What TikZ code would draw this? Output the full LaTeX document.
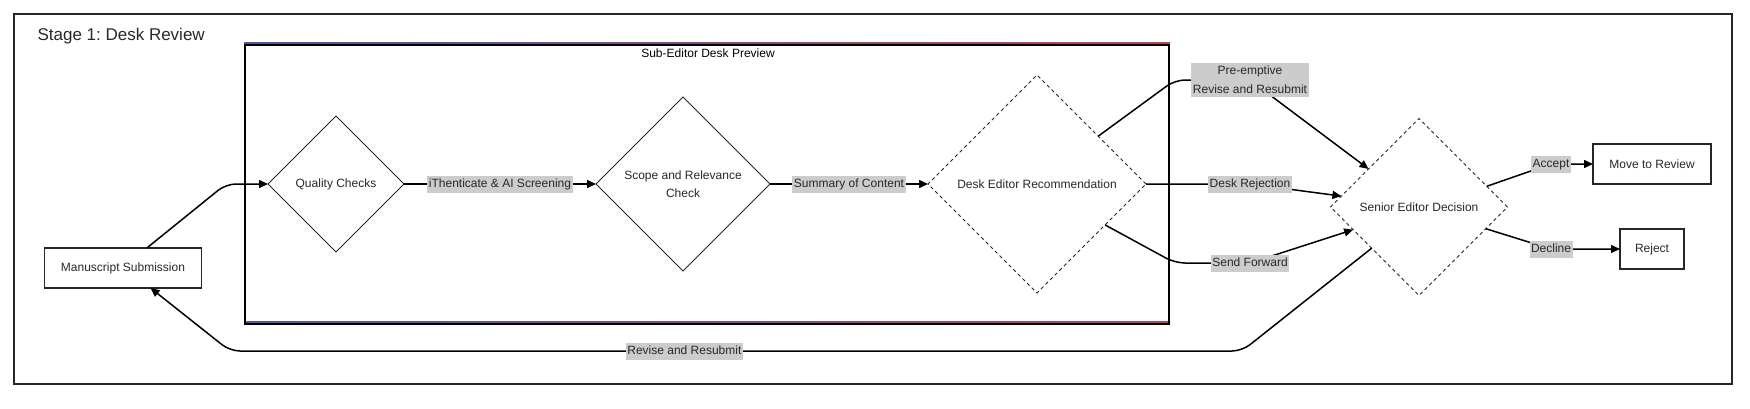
\documentclass[tikz,border=0pt]{standalone}
\usepackage{fontspec}
\setmainfont{Liberation Sans}
\usetikzlibrary{shapes.geometric}
\usetikzlibrary{arrows.meta}
\frenchspacing

\definecolor{lblgray}{RGB}{204,204,204}
\definecolor{txtgray}{RGB}{40,40,40}
\definecolor{frameblue}{RGB}{80,88,160}
\definecolor{framered}{RGB}{180,70,90}

\begin{document}
\begin{tikzpicture}[x=1pt, y=-1pt,
    every node/.style={font=\fontsize{12}{14}\selectfont, text=txtgray},
    box/.style={draw=black!85, rectangle, line width=1.1pt, fill=white, inner sep=0pt, outer sep=0pt},
    dia/.style={draw=black!85, diamond, aspect=1, line width=0.8pt, fill=white, inner sep=0pt, outer sep=0pt},
    dashdia/.style={dia, dash pattern=on 3.5pt off 3pt},
    lbl/.style={fill=lblgray, sharp corners, inner xsep=1.5pt, inner ysep=2.5pt, text height=9pt, text depth=3pt},
    lblm/.style={fill=lblgray, sharp corners, inner xsep=1.5pt, inner ysep=3pt, align=center},
    conn/.style={line width=1.5pt, -{Triangle[length=9pt,width=8pt]}, rounded corners=10pt}]
\useasboundingbox (0,0) rectangle (1750,408);

% frames
\draw[line width=2pt, draw=black!85] (14,14) rectangle (1732,384);
\node[anchor=base west, font=\fontsize{17}{20}\selectfont] (stage) at (34,40) {Stage 1: Desk Review};

\shade[left color=frameblue, right color=framered] (244,42.7) rectangle (1170,43.4);
\shade[left color=frameblue, right color=framered] (244,321.9) rectangle (1170,322.6);
\draw[line width=2.5pt] (245,45) rectangle (1169,324);
\node[text=black] (subttl) at (708,53) {Sub-Editor Desk Preview};

% nodes
\node[box, minimum width=157pt, minimum height=40pt] (ms) at (123,268) {Manuscript Submission};
\node[dia, minimum width=136pt, minimum height=136pt] (qc) at (336,184) {Quality Checks};
\node[dia, minimum width=174pt, minimum height=174pt, align=center,
      font=\fontsize{12}{18}\selectfont] (sc) at (683,184) {Scope and Relevance\\Check};
\node[dashdia, minimum width=218pt, minimum height=218pt] (de) at (1037,184) {Desk Editor Recommendation};
\node[dashdia, minimum width=177pt, minimum height=177pt] (se) at (1419,207) {Senior Editor Decision};
\node[box, minimum width=118pt, minimum height=40pt] (mr) at (1652,164) {Move to Review};
\node[box, minimum width=64pt, minimum height=40pt] (rj) at (1652,249) {Reject};

% connectors
\draw[conn] (ms.40) -- (226,184) -- (qc.west);
\draw[conn] (qc.east) -- (sc.west) node[lbl, midway] {iThenticate \& AI Screening};
\draw[conn] (sc.east) -- (de.west) node[lbl, midway] {Summary of Content};

\draw[conn] (de.38) -- (1175,80) -- (1250,80)
    node[lblm, font=\fontsize{12}{19}\selectfont] (pre) {Pre-emptive\\Revise and Resubmit} -- (se.143);
\draw[conn] (de.east) -- (1250,184) node[lbl] (rej) {Desk Rejection} -- (se.172);
\draw[conn] (de.-31) -- (1175,263) -- (1250,263) node[lbl] (fwd) {Send Forward} -- (se.199);

\draw[conn] (se.17) -- (1551,164) node[lbl] (acc) {Accept} -- (mr.west);
\draw[conn] (se.-18) -- (1551,249) node[lbl] (dec) {Decline} -- (rj.west);

\draw[conn] (se.221) -- (1242,351) -- (230,351)
    node[lbl, pos=0.551] (rvs) {Revise and Resubmit} -- (ms.-36);
\end{tikzpicture}
\end{document}
